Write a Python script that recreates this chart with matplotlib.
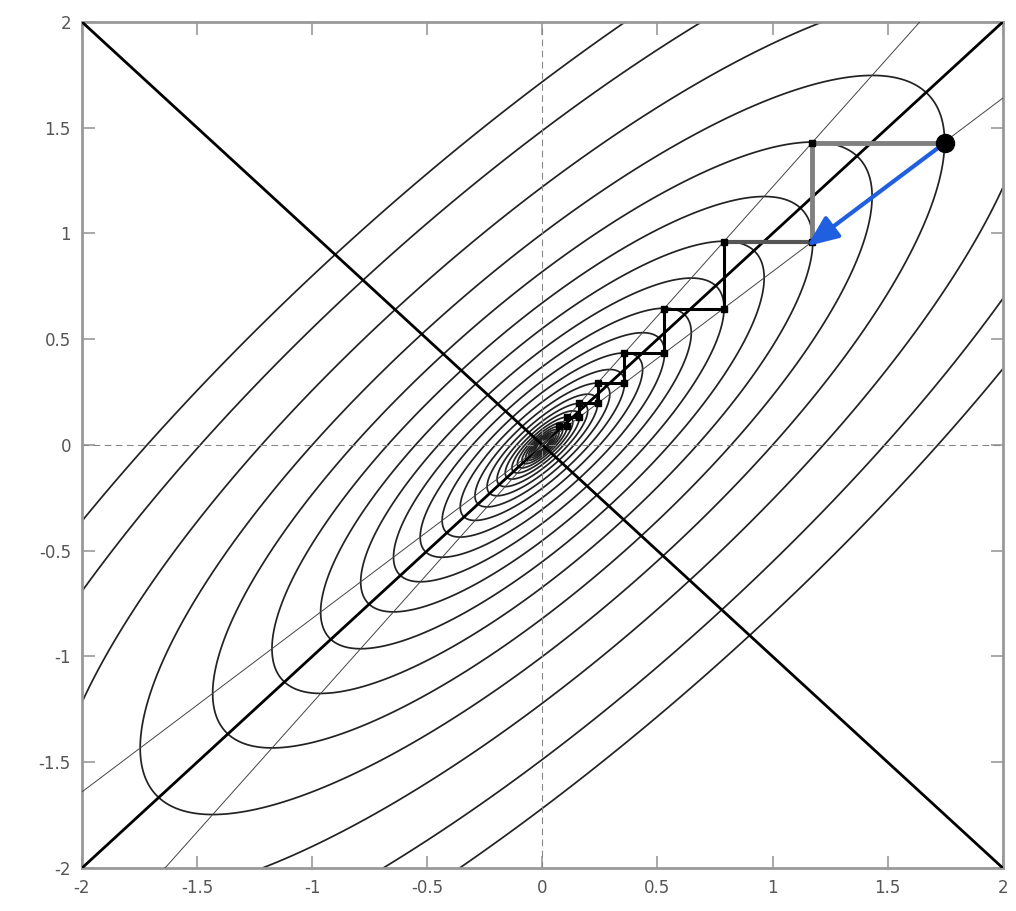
import numpy as np
import matplotlib
matplotlib.use("Agg")
import matplotlib.pyplot as plt

# =====================================================
# DATA
# =====================================================
# quadratic bowl f(x, y) = x^2 - 2*c*x*y + y^2
coupling = 0.82

# contour levels (outer ones first, then shrinking towards the minimum)
levels_outer = [2.95, 2.21, 1.49]
levels_inner = [1.0, 0.672, 0.452, 0.304, 0.204, 0.137, 0.0923, 0.0621,
                0.0417, 0.0281, 0.0189, 0.0127, 0.00853, 0.00574, 0.00386,
                0.00259, 0.00174, 0.00117, 0.00079, 0.00053, 0.00036]

# coordinate descent path (corners of the staircase)
path_x = [1.75, 1.17, 1.17, 0.79, 0.79, 0.53, 0.53, 0.355, 0.355, 0.24,
          0.24, 0.16, 0.16, 0.108, 0.108, 0.073]
path_y = [1.43, 1.43, 0.96, 0.96, 0.645, 0.645, 0.435, 0.435, 0.292, 0.292,
          0.197, 0.197, 0.132, 0.132, 0.089, 0.089]

# gradient arrow
arrow_start = (1.75, 1.43)
arrow_end = (1.15, 0.94)

# slopes of the thin lines where one partial derivative vanishes
thin_slopes = [0.82, 1.22]

ticks = [-2, -1.5, -1, -0.5, 0, 0.5, 1, 1.5, 2]
tick_labels = ["-2", "-1.5", "-1", "-0.5", "0", "0.5", "1", "1.5", "2"]

# =====================================================
# FIGURE
# =====================================================
fig = plt.figure(figsize=(10.16, 9.11), dpi=100)
ax = fig.add_axes([0.0807, 0.0472, 0.9063, 0.9287])

# contours
gx = np.linspace(-2, 2, 801)
gy = np.linspace(-2, 2, 801)
X, Y = np.meshgrid(gx, gy)
F = X**2 - 2 * coupling * X * Y + Y**2
levels = sorted(levels_inner + levels_outer)
ax.contour(X, Y, F, levels=levels, colors="#222222", linewidths=1.25)

# dashed axes through origin
ax.axhline(0, color="#888888", lw=0.8, ls=(0, (6, 4)), zorder=2)
ax.axvline(0, color="#888888", lw=0.8, ls=(0, (6, 4)), zorder=2)

# diagonals
line = np.array([-2, 2])
ax.plot(line, line, color="black", lw=2.0, zorder=3)
ax.plot(line, -line, color="black", lw=2.0, zorder=3)

# thin lines
for s in thin_slopes:
    ax.plot(line, s * line, color="#444444", lw=0.7, zorder=3)

# staircase path
ax.plot(path_x[:3], path_y[:3], color="#808080", lw=3.5, zorder=4,
        solid_capstyle="butt")
ax.plot(path_x[2:4], path_y[2:4], color="#555555", lw=3.0, zorder=4,
        solid_capstyle="butt")
ax.plot(path_x[3:], path_y[3:], color="black", lw=2.2, zorder=4)
ax.plot(path_x[1:], path_y[1:], ls="none", marker="s", ms=4.5,
        color="black", zorder=5)

# gradient arrow
ax.annotate("", xy=arrow_end, xytext=arrow_start,
            arrowprops=dict(arrowstyle="-|>,head_length=1.9,head_width=0.8",
                            color="#1f5fe0", lw=3.0, shrinkA=0, shrinkB=0),
            zorder=6)

# start point
ax.plot(arrow_start[0], arrow_start[1], marker="o", ms=13, color="black",
        zorder=7)

# =====================================================
# AXES STYLE
# =====================================================
ax.set_xlim(-2, 2)
ax.set_ylim(-2, 2)
ax.set_xticks(ticks)
ax.set_yticks(ticks)
ax.set_xticklabels(tick_labels)
ax.set_yticklabels(tick_labels)
ax.tick_params(direction="in", length=9, width=1.2, color="#999999",
               labelcolor="#555555", labelsize=12, top=True, right=True,
               pad=8)
for sp in ax.spines.values():
    sp.set_color("#999999")
    sp.set_linewidth(2.0)

fig.savefig("out.png", dpi=100)
plt.close(fig)
